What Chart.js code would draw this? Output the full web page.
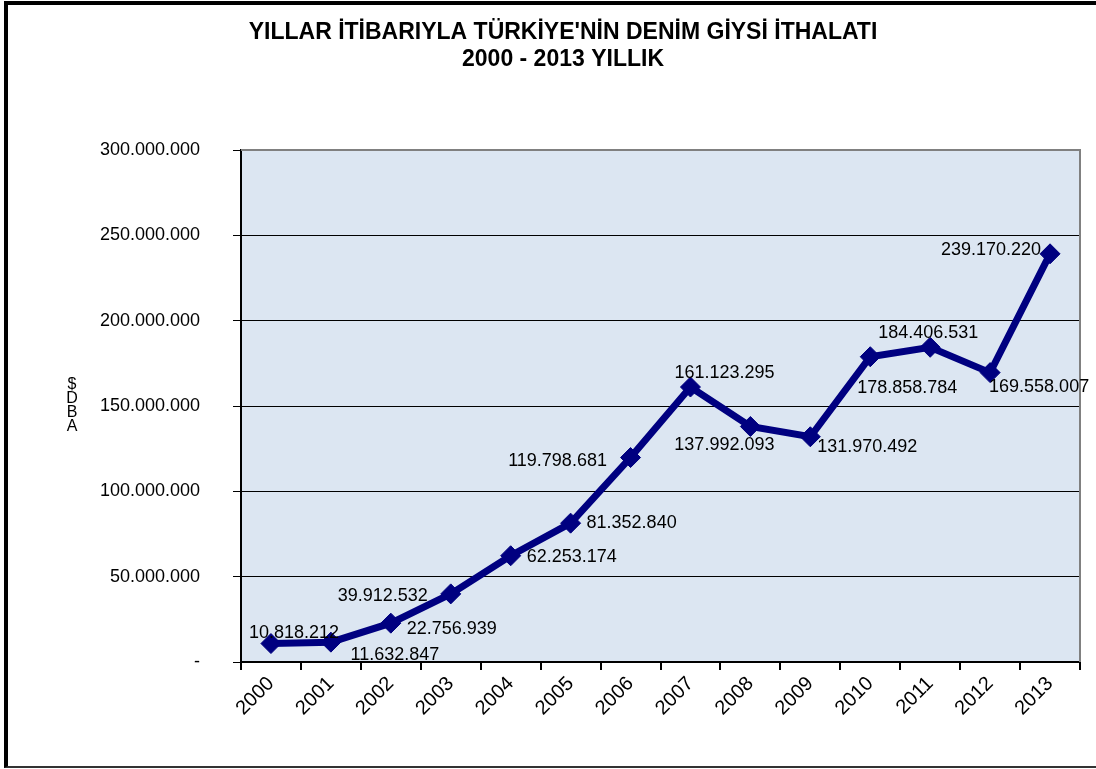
<!DOCTYPE html>
<html>
<head>
<meta charset="utf-8">
<script src="https://cdn.jsdelivr.net/npm/chart.js@4.4.1/dist/chart.umd.min.js"></script>
<style>
    html, body { margin: 0; padding: 0; background: #fff; }
    #wrap { position: relative; width: 1096px; height: 769px; overflow: hidden; }
    #frame {
        position: absolute; left: 4px; top: 1px; width: 1100px; height: 767px; box-sizing: border-box;
        border-top: 4px solid #000; border-left: 4px solid #000; border-bottom: 2px solid #333;
        pointer-events: none;
    }
</style>
</head>
<body>
<div id="wrap">
    <canvas id="ithalatChart" width="1096" height="769"></canvas>
    <div id="frame"></div>
</div>
<script>
// 數據
const years = ['2000', '2001', '2002', '2003', '2004', '2005', '2006', '2007', '2008', '2009', '2010', '2011', '2012', '2013'];
const importValues = [10818212, 11632847, 22756939, 39912532, 62253174, 81352840, 119798681, 161123295, 137992093, 131970492, 178858784, 184406531, 169558007, 239170220];
const yTicks = [0, 50000000, 100000000, 150000000, 200000000, 250000000, 300000000];

const titleLines = ["YILLAR İTİBARIYLA TÜRKİYE'NİN DENİM GİYSİ İTHALATI", '2000 - 2013 YILLIK'];
const yTitleChars = ['$', 'D', 'B', 'A'];

// label placement relative to each point (px)
const labelOffsets = [[23, -11], [64, 13], [61, 6], [-68, 2], [61, 1], [61, 0], [-73, 3],
    [34, -14], [-26, 19], [57, 10], [37, 31], [-2, -14], [49, 14], [-59, -4]];

const FONT = 'Arial, "Liberation Sans", sans-serif';

function dotted(n) {
    return String(Math.round(n)).replace(/\B(?=(\d{3})+(?!\d))/g, '.');
}

// 背景、標題等
const decorPlugin = {
    id: 'decor',
    beforeDraw(chart) {
        const { ctx, chartArea: a } = chart;
        ctx.save();
        ctx.fillStyle = '#dce6f2';
        ctx.fillRect(a.left, a.top, a.right - a.left, a.bottom - a.top);

        ctx.fillStyle = '#000';
        ctx.textAlign = 'center';
        ctx.textBaseline = 'middle';
        ctx.font = 'bold 23px ' + FONT;
        ctx.fillText(titleLines[0], 563, 33);
        ctx.fillText(titleLines[1], 563, 60);

        ctx.font = '16px ' + FONT;
        yTitleChars.forEach((c, i) => ctx.fillText(c, 72, 385 + i * 14));
        ctx.restore();
    },
    beforeDatasetsDraw(chart) {
        const { ctx, chartArea: a } = chart;
        ctx.save();
        ctx.strokeStyle = '#808080';
        ctx.lineWidth = 2;
        ctx.beginPath();
        ctx.moveTo(a.left, a.top);
        ctx.lineTo(a.right, a.top);
        ctx.lineTo(a.right, a.bottom);
        ctx.stroke();
        ctx.restore();
    },
    afterDatasetsDraw(chart) {
        const { ctx } = chart;
        const meta = chart.getDatasetMeta(0);
        ctx.save();
        ctx.fillStyle = '#000';
        ctx.font = '18px ' + FONT;
        ctx.textAlign = 'center';
        ctx.textBaseline = 'middle';
        meta.data.forEach((pt, i) => {
            const off = labelOffsets[i];
            ctx.fillText(dotted(importValues[i]), pt.x + off[0], pt.y + off[1]);
        });
        ctx.restore();
    }
};

const ctx = document.getElementById('ithalatChart').getContext('2d');
new Chart(ctx, {
    type: 'line',
    data: {
        labels: years,
        datasets: [{
            data: importValues,
            borderColor: '#000080',
            backgroundColor: '#000080',
            borderWidth: 7,
            pointStyle: 'rectRot',
            pointRadius: 10,
            pointBorderWidth: 1,
            tension: 0
        }]
    },
    options: {
        responsive: false,
        animation: false,
        layout: { padding: { left: 0, top: 150, right: 16, bottom: 0 } },
        plugins: {
            legend: { display: false },
            title: { display: false },
            tooltip: { enabled: false }
        },
        scales: {
            x: {
                offset: true,
                grid: { drawOnChartArea: false, color: '#000', tickLength: 8, lineWidth: 2, offset: true },
                border: { color: '#000', width: 2 },
                ticks: {
                    color: '#000',
                    font: { family: FONT, size: 20 },
                    minRotation: 45,
                    maxRotation: 45,
                    padding: 2
                },
                afterFit(scale) { scale.height = 107; }
            },
            y: {
                min: 0,
                max: 300000000,
                afterBuildTicks(scale) { scale.ticks = yTicks.map(v => ({ value: v })); },
                grid: { color: '#000', tickLength: 8, lineWidth: 1 },
                border: { color: '#000', width: 2 },
                ticks: {
                    color: '#000',
                    font: { family: FONT, size: 18 },
                    padding: 33,
                    callback: v => (v === 0 ? '-' : dotted(v))
                },
                afterFit(scale) { scale.width = 241; }
            }
        }
    },
    plugins: [decorPlugin]
});
</script>
</body>
</html>
